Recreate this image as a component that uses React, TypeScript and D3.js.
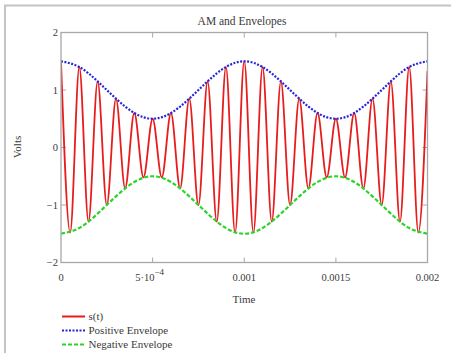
import React from 'react';
import * as d3 from 'd3';

// s(t) extrema (carrier peaks / troughs)
const peakTimes = [0, 0.0001, 0.0002, 0.0003, 0.0004, 0.0005, 0.0006, 0.0007, 0.0008, 0.0009, 0.001,
  0.0011, 0.0012, 0.0013, 0.0014, 0.0015, 0.0016, 0.0017, 0.0018, 0.0019, 0.002];
const peakValues = [1.5, 1.4, 1.15, 0.85, 0.6, 0.5, 0.6, 0.85, 1.15, 1.4, 1.5,
  1.4, 1.15, 0.85, 0.6, 0.5, 0.6, 0.85, 1.15, 1.4, 1.33];
const troughTimes = [0.00005, 0.00015, 0.00025, 0.00035, 0.00045, 0.00055, 0.00065, 0.00075, 0.00085, 0.00095,
  0.00105, 0.00115, 0.00125, 0.00135, 0.00145, 0.00155, 0.00165, 0.00175, 0.00185, 0.00195];
const troughValues = [-1.48, -1.29, -1.0, -0.71, -0.52, -0.52, -0.71, -1.0, -1.29, -1.48,
  -1.48, -1.29, -1.0, -0.71, -0.52, -0.52, -0.71, -1.0, -1.29, -1.48];

// envelopes
const envTimes = peakTimes;
const posEnvelope = [1.5, 1.4, 1.15, 0.85, 0.6, 0.5, 0.6, 0.85, 1.15, 1.4, 1.5,
  1.4, 1.15, 0.85, 0.6, 0.5, 0.6, 0.85, 1.15, 1.4, 1.5];
const negEnvelope = [-1.5, -1.4, -1.15, -0.85, -0.6, -0.5, -0.6, -0.85, -1.15, -1.4, -1.5,
  -1.4, -1.15, -0.85, -0.6, -0.5, -0.6, -0.85, -1.15, -1.4, -1.5];

const xTicks = [0, 0.0005, 0.001, 0.0015, 0.002];
const xTickLabels = ['0', '5·10', '0.001', '0.0015', '0.002'];
const yTicks = [-2, -1, 0, 1, 2];

const legendItems = [
  { label: 's(t)', color: '#e81c1c', dash: 'none' },
  { label: 'Positive Envelope', color: '#2626d9', dash: '2,1.5' },
  { label: 'Negative Envelope', color: '#2ad42a', dash: '4,2' },
];

const W = 451;
const H = 353;
const margin = { left: 61, right: 23.5, top: 32.5, bottom: 90.5 };
const font = '"Liberation Serif", "Times New Roman", serif';

export default function App() {
  const x = d3.scaleLinear().domain([0, 0.002]).range([margin.left, W - margin.right]);
  const y = d3.scaleLinear().domain([-2, 2]).range([H - margin.bottom, margin.top]);

  const signal = peakTimes.map((t, i) => [t, peakValues[i]] as [number, number])
    .concat(troughTimes.map((t, i) => [t, troughValues[i]] as [number, number]))
    .sort((a, b) => a[0] - b[0]);

  const line = d3.line<[number, number]>()
    .x(d => x(d[0]))
    .y(d => y(d[1]))
    .curve(d3.curveMonotoneX);
  const envLine = d3.line<[number, number]>()
    .x(d => x(d[0]))
    .y(d => y(d[1]))
    .curve(d3.curveNatural);

  const pos = envTimes.map((t, i) => [t, posEnvelope[i]] as [number, number]);
  const neg = envTimes.map((t, i) => [t, negEnvelope[i]] as [number, number]);

  const x0 = x(0), x1 = x(0.002), y0 = y(-2), y1 = y(2);
  const grey = '#a8a8a8';
  const textCol = '#3a3a3a';

  return (
    <svg width={W} height={H} style={{ position: 'absolute', left: 0, top: 0, background: '#fff' }}
      fontFamily={font}>
      {/* outer frame */}
      <path d={`M5,${H} V5.5 H${W}`} fill="none" stroke="#c4c4c4" strokeWidth={2} />

      <text x={242} y={24.5} textAnchor="middle" fontSize={11.5} fill={textCol}>AM and Envelopes</text>

      <defs>
        <clipPath id="plotClip">
          <rect x={x0} y={y1} width={x1 - x0} height={y0 - y1} />
        </clipPath>
      </defs>

      {/* ticks */}
      {xTicks.slice(1, -1).map(t => (
        <g key={'xt' + t}>
          <line x1={x(t)} x2={x(t)} y1={y0} y2={y0 - 5} stroke={grey} />
          <line x1={x(t)} x2={x(t)} y1={y1} y2={y1 + 5} stroke={grey} />
        </g>
      ))}
      {yTicks.slice(1, -1).map(v => (
        <g key={'yt' + v}>
          <line x1={x0} x2={x0 + 5} y1={y(v)} y2={y(v)} stroke={grey} />
          <line x1={x1} x2={x1 - 5} y1={y(v)} y2={y(v)} stroke={grey} />
        </g>
      ))}

      <g clipPath="url(#plotClip)">
        <path d={line(signal) || ''} fill="none" stroke="#e81c1c" strokeWidth={1.8} />
        <path d={envLine(pos) || ''} fill="none" stroke="#2626d9" strokeWidth={2.2} strokeDasharray="2,1.5" />
        <path d={envLine(neg) || ''} fill="none" stroke="#2ad42a" strokeWidth={2.2} strokeDasharray="4,2" />
      </g>

      <rect x={x0} y={y1} width={x1 - x0} height={y0 - y1} fill="none" stroke={grey} strokeWidth={1.3} />

      {/* y tick labels */}
      {yTicks.map(v => (
        <text key={'yl' + v} x={58} y={y(v) + 3.5} textAnchor="end" fontSize={10.5} fill={textCol}>
          {v < 0 ? '\u2212' + Math.abs(v) : v}
        </text>
      ))}

      {/* x tick labels */}
      {xTicks.map((t, i) => (
        <text key={'xl' + t} x={x(t) + (i === 1 ? -3 : 0)} y={281} textAnchor="middle" fontSize={10.5} fill={textCol}>
          {xTickLabels[i]}
          {i === 1 && <tspan dy={-6} fontSize={9}>{'\u22124'}</tspan>}
        </text>
      ))}

      <text x={244} y={303} textAnchor="middle" fontSize={11} fill={textCol}>Time</text>
      <text transform="translate(21,147) rotate(-90)" textAnchor="middle" fontSize={11} fill={textCol}>Volts</text>

      {/* legend */}
      {legendItems.map((item, i) => (
        <g key={item.label} transform={`translate(0,${316.5 + i * 14})`}>
          <line x1={62} x2={85} y1={0} y2={0} stroke={item.color} strokeWidth={2}
            strokeDasharray={item.dash} />
          <text x={88.5} y={3.5} fontSize={11} fill={textCol}>{item.label}</text>
        </g>
      ))}
    </svg>
  );
}
